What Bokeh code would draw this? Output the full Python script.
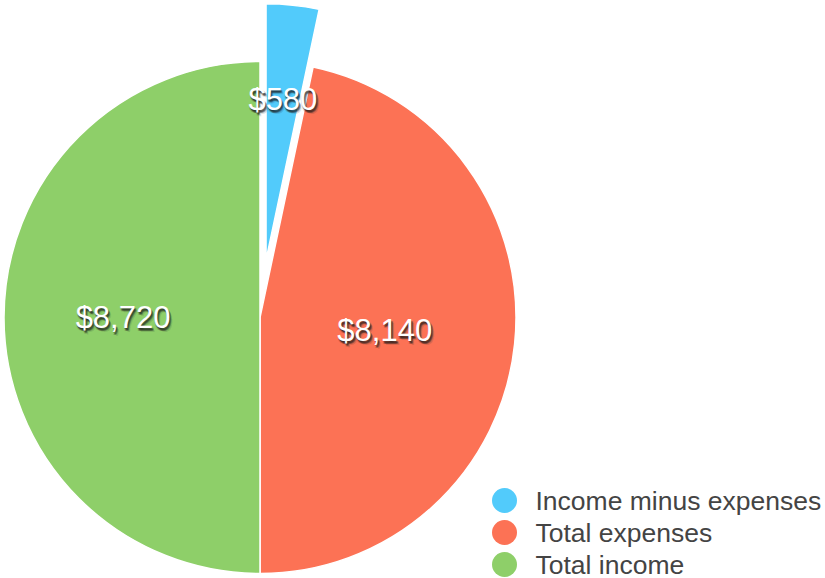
import math
from bokeh.plotting import figure
from bokeh.models import Range1d, ColumnDataSource
from bokeh.core.properties import value
from bokeh.embed import file_html
from bokeh.resources import INLINE

# ---- data ----
categories = ["Income minus expenses", "Total expenses", "Total income"]
values = [580, 8140, 8720]
labels = ["$580", "$8,140", "$8,720"]
colors = ["#52CBFB", "#FC7255", "#8ECF69"]

# ---- style / layout ----
W, H = 825, 578
CX, CY = 259.5, H - 317
R = 256
explode = [58, 0, 0]
label_frac = [0.63, 0.49, 0.535]
FONT = "Liberation Sans"

p = figure(width=W, height=H, x_range=Range1d(0, W), y_range=Range1d(0, H),
           output_backend="svg", toolbar_location=None, min_border=0,
           background_fill_color="white", border_fill_color="white")
p.axis.visible = False
p.grid.visible = False
p.outline_line_color = None

total = sum(values)
# clockwise from 12 o'clock
ang = math.pi / 2
starts, ends, xs, ys, lx, ly = [], [], [], [], [], []
for v, e, lf in zip(values, explode, label_frac):
    sweep = 2 * math.pi * v / total
    a_end = ang
    a_start = ang - sweep
    mid = (a_start + a_end) / 2
    cx = CX + e * math.cos(mid)
    cy = CY + e * math.sin(mid)
    starts.append(a_start)
    ends.append(a_end)
    xs.append(cx)
    ys.append(cy)
    lx.append(cx + lf * R * math.cos(mid))
    ly.append(cy + lf * R * math.sin(mid))
    ang = a_start

src = ColumnDataSource(dict(x=xs, y=ys, start=starts, end=ends, color=colors,
                            lx=lx, ly=ly, label=labels))
p.wedge(x="x", y="y", radius=R, start_angle="start", end_angle="end",
        fill_color="color", line_color="white", line_width=1.5, source=src)

# label shadow (approximate blur with several offset copies)
for dx, dy, a in [(1, 2, 0.35), (2, 3, 0.22), (0, 1, 0.25), (2, 2, 0.22),
                  (1, 3, 0.22), (3, 4, 0.12), (0, 3, 0.12)]:
    p.text(x="lx", y="ly", text="label", source=src, text_color="#1a1a1a",
           text_alpha=a, text_font=value(FONT), text_font_size="31px",
           text_align="center", text_baseline="middle", x_offset=dx, y_offset=dy)
p.text(x="lx", y="ly", text="label", source=src, text_color="white",
       text_font=value(FONT), text_font_size="31px",
       text_align="center", text_baseline="middle")

# legend
LEG_X, LEG_Y0, LEG_DY = 504, H - 500, 32
leg = ColumnDataSource(dict(
    x=[LEG_X] * len(categories),
    y=[LEG_Y0 - i * LEG_DY for i in range(len(categories))],
    tx=[LEG_X + 31] * len(categories),
    color=colors, name=categories))
p.scatter(x="x", y="y", size=25, marker="circle", fill_color="color",
          line_color=None, source=leg)
p.text(x="tx", y="y", text="name", source=leg, text_color="#444444",
       text_font=value(FONT), text_font_size="26.5px",
       text_align="left", text_baseline="middle")

open("out.html", "w").write(file_html(p, INLINE))
